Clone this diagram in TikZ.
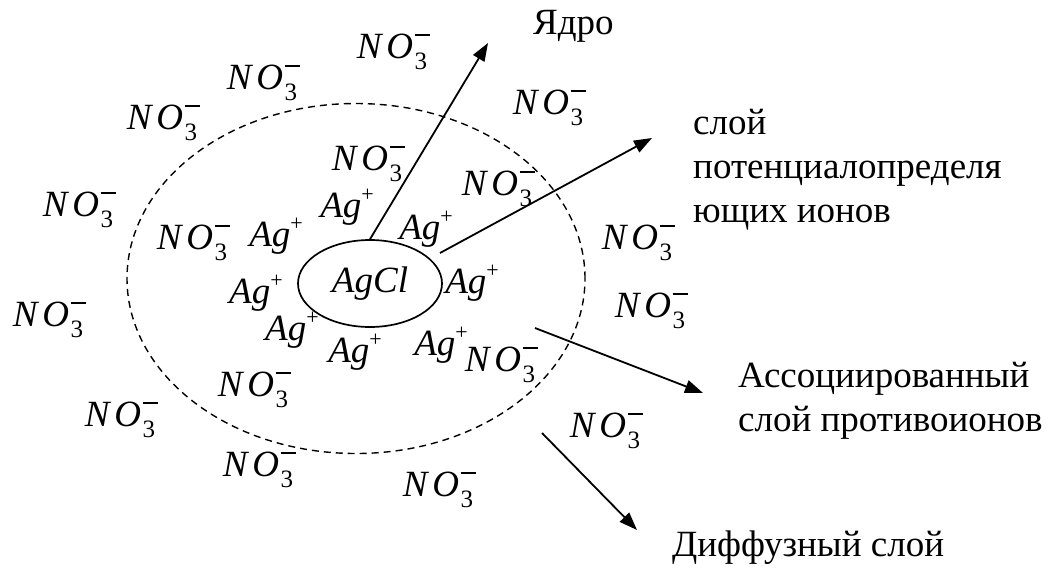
\documentclass[tikz,border=0pt]{standalone}
\usepackage{fontspec}
\setmainfont{Liberation Serif}
\usetikzlibrary{arrows.meta,shapes.geometric}
\newcommand{\nothree}{\textit{N}\kern3pt\textit{O}\kern1.5pt\rlap{\raisebox{0.6em}{\rule{15pt}{2pt}}}\raisebox{-0.3em}{\fontsize{25}{25}\selectfont 3}}
\newcommand{\agplus}{\textit{Ag}\raisebox{0.42em}{\fontsize{22}{22}\selectfont +}}
\tikzset{
  ion/.style={inner sep=0pt, font=\fontsize{37}{37}\selectfont},
  lbl/.style={inner sep=0pt, align=left, anchor=north west, font=\fontsize{37}{44}\selectfont},
  arr/.style={line width=1.8pt, -{Triangle[length=18pt,width=13pt]}},
  layer/.style={dashed, line width=1.4pt, dash pattern=on 7pt off 5pt}
}
\begin{document}
\begin{tikzpicture}[x=1pt,y=-1pt]
\useasboundingbox (0,0) rectangle (1059,570);
% dashed boundary
\draw[layer] (356,278.5) ellipse [x radius=229pt, y radius=175pt];
% core
\node[draw, ellipse, line width=1.7pt, minimum width=144pt, minimum height=87pt, inner sep=0pt, font=\fontsize{37}{37}\selectfont] (core) at (370,283.5) {\textit{AgCl}};
% Ag+ ions
\node[ion] (ag1) at (347,207) {\agplus};
\node[ion] (ag2) at (276,236) {\agplus};
\node[ion] (ag3) at (426,229) {\agplus};
\node[ion] (ag4) at (472,283) {\agplus};
\node[ion] (ag5) at (256,293) {\agplus};
\node[ion] (ag6) at (292,330) {\agplus};
\node[ion] (ag7) at (355,352) {\agplus};
\node[ion] (ag8) at (441,345) {\agplus};
% NO3- ions
\node[ion] (n1) at (392,52) {\nothree};
\node[ion] (n2) at (262,83) {\nothree};
\node[ion] (n3) at (162,123) {\nothree};
\node[ion] (n4) at (78,210) {\nothree};
\node[ion] (n5) at (192,243) {\nothree};
\node[ion] (n6) at (367,164) {\nothree};
\node[ion] (n7) at (497,189) {\nothree};
\node[ion] (n8) at (548,108) {\nothree};
\node[ion] (n9) at (637,243) {\nothree};
\node[ion] (n10) at (48,320) {\nothree};
\node[ion] (n11) at (253,390) {\nothree};
\node[ion] (n12) at (120,420) {\nothree};
\node[ion] (n13) at (258,470) {\nothree};
\node[ion] (n14) at (438,490) {\nothree};
\node[ion] (n15) at (500,365) {\nothree};
\node[ion] (n16) at (650,311) {\nothree};
\node[ion] (n17) at (605,431) {\nothree};
% labels
\node[lbl] (lcore) at (533,10) {Ядро};
\node[lbl] (lpot) at (693,109) {слой\\потенциалопределя\\ющих ионов};
\node[lbl] (lassoc) at (738,362) {Ассоциированный\\слой противоионов};
\node[lbl] (ldiff) at (672,531) {Диффузный слой};
% arrow anchors
\coordinate (s1) at (core.north);
\coordinate (e1) at (488,43);
\coordinate (s2) at (440,253);
\coordinate (e2) at (652,138);
\coordinate (s3) at (535,328);
\coordinate (e3) at (703,393);
\coordinate (s4) at (542,433);
\coordinate (e4) at (637,530);
\draw[arr] (s1) -- (e1);
\draw[arr] (s2) -- (e2);
\draw[arr] (s3) -- (e3);
\draw[arr] (s4) -- (e4);
\end{tikzpicture}
\end{document}
